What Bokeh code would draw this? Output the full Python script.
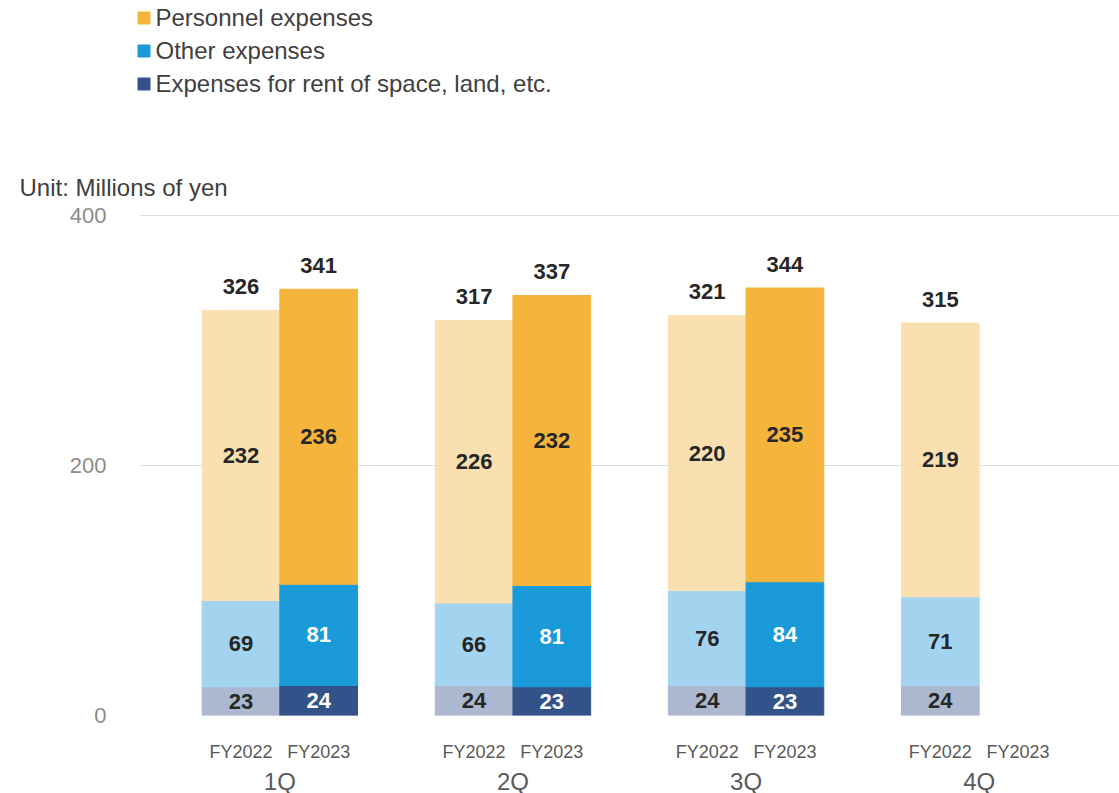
from bokeh.plotting import figure
from bokeh.layouts import column
from bokeh.models import (FactorRange, ColumnDataSource, FixedTicker, Legend,
                          LegendItem, Range1d)
from bokeh.core.properties import value
from bokeh.embed import file_html
from bokeh.resources import INLINE

# ---------------- data ----------------
quarters = ["1Q", "2Q", "3Q", "4Q"]
years = ["FY2022", "FY2023"]

fy2022_quarters = ["1Q", "2Q", "3Q", "4Q"]
fy2022_rent = [23, 24, 24, 24]
fy2022_other = [69, 66, 76, 71]
fy2022_personnel = [232, 226, 220, 219]
fy2022_total = [326, 317, 321, 315]

fy2023_quarters = ["1Q", "2Q", "3Q"]
fy2023_rent = [24, 23, 23]
fy2023_other = [81, 81, 84]
fy2023_personnel = [236, 232, 235]
fy2023_total = [341, 337, 344]

legend_labels = ["Personnel expenses", "Other expenses",
                 "Expenses for rent of space, land, etc."]
unit_text = "Unit: Millions of yen"
y_ticks = [0, 200, 400]

# ---------------- style ----------------
FONT = "Liberation Sans"
c22 = ["#ABB8D0", "#A3D4EF", "#FAE0B0"]   # rent, other, personnel
c23 = ["#34528A", "#1A9AD9", "#F5B53C"]
lbl22 = ["#262626", "#262626", "#262626"]
lbl23 = ["#FFFFFF", "#FFFFFF", "#262626"]
stack_keys = ["rent", "other", "personnel"]

factors = [(q, y) for q in quarters for y in years]


def make_source(qs, year, rent, other, pers, total):
    return ColumnDataSource(dict(x=[(q, year) for q in qs], rent=rent,
                                 other=other, personnel=pers, total=total))


src22 = make_source(fy2022_quarters, "FY2022", fy2022_rent, fy2022_other,
                    fy2022_personnel, fy2022_total)
src23 = make_source(fy2023_quarters, "FY2023", fy2023_rent, fy2023_other,
                    fy2023_personnel, fy2023_total)

# ---------------- header (legend) ----------------
top = figure(frame_width=1119, frame_height=168,
             x_range=FactorRange(*factors), y_range=Range1d(1000, 1200),
             min_border=0, min_border_left=0, min_border_right=0,
             min_border_top=0, min_border_bottom=0, output_backend="svg",
             toolbar_location=None, x_axis_location=None,
             y_axis_location=None)
top.grid.visible = False
top.outline_line_color = None

# the legend swatches belong to the FY2023 stack (kept out of view here)
hdr = top.vbar_stack(stack_keys, x="x", width=1.0, source=src23, color=c23)
items = [LegendItem(label=legend_labels[0], renderers=[hdr[2]]),
         LegendItem(label=legend_labels[1], renderers=[hdr[1]]),
         LegendItem(label=legend_labels[2], renderers=[hdr[0]])]
legend = Legend(items=items, location=(135.5, 70.5), orientation="vertical",
                padding=0, margin=0, spacing=5, glyph_width=15,
                glyph_height=15, label_height=27, label_standoff=5,
                label_text_font=FONT, label_text_font_size="24px",
                label_text_color="#404040", background_fill_alpha=0,
                border_line_color=None)
top.add_layout(legend, "center")

# ---------------- main chart ----------------
p = figure(
    x_range=FactorRange(*factors, group_padding=1.0, factor_padding=0.0,
                        range_padding=0.806, range_padding_units="absolute"),
    y_range=(0, 412),
    frame_width=980, frame_height=515,
    min_border_left=139, min_border_right=0, min_border_top=32,
    min_border_bottom=78,
    output_backend="svg", toolbar_location=None,
    title=unit_text,
)
p.title.align = "left"
p.title.offset = -120
p.title.standoff = 0
p.title.text_font = FONT
p.title.text_font_style = "normal"
p.title.text_font_size = "24px"
p.title.text_color = "#404040"

r22 = p.vbar_stack(stack_keys, x="x", width=1.0, source=src22, color=c22)
r23 = p.vbar_stack(stack_keys, x="x", width=1.0, source=src23, color=c23)


def label_source(qs, year, segs, colors):
    xs, ys, texts, cols = [], [], [], []
    for i, q in enumerate(qs):
        bottom = 0
        for k, seg in enumerate(segs):
            v = seg[i]
            xs.append((q, year)); ys.append(bottom + v / 2)
            texts.append(str(v)); cols.append(colors[k])
            bottom += v
    return ColumnDataSource(dict(x=xs, y=ys, text=texts, color=cols))


def total_source(qs, year, segs, total):
    tops = [sum(s[i] for s in segs) for i in range(len(qs))]
    return ColumnDataSource(dict(x=[(q, year) for q in qs], y=tops,
                                 text=[str(t) for t in total]))


seg22 = [fy2022_rent, fy2022_other, fy2022_personnel]
seg23 = [fy2023_rent, fy2023_other, fy2023_personnel]

for src in (label_source(fy2022_quarters, "FY2022", seg22, lbl22),
            label_source(fy2023_quarters, "FY2023", seg23, lbl23)):
    p.text(x="x", y="y", text="text", source=src, text_color="color",
           text_font=value(FONT), text_font_style="bold",
           text_font_size="22px", text_align="center", text_baseline="middle")

for src in (total_source(fy2022_quarters, "FY2022", seg22, fy2022_total),
            total_source(fy2023_quarters, "FY2023", seg23, fy2023_total)):
    p.text(x="x", y="y", text="text", source=src, text_color="#262626",
           text_font=value(FONT), text_font_style="bold",
           text_font_size="22px", text_align="center", text_baseline="middle",
           y_offset=-24)

# axes
p.xaxis.axis_line_color = None
p.xaxis.major_tick_line_color = None
p.xaxis.minor_tick_line_color = None
p.xaxis.major_tick_in = 0
p.xaxis.major_tick_out = 23
p.xaxis.major_label_standoff = 3
p.xaxis.major_label_text_font = FONT
p.xaxis.major_label_text_font_size = "18px"
p.xaxis.major_label_text_color = "#595959"
p.xaxis.group_text_font = FONT
p.xaxis.group_text_font_style = "normal"
p.xaxis.group_text_font_size = "24px"
p.xaxis.group_text_color = "#595959"
p.xaxis.separator_line_color = None

p.yaxis.ticker = FixedTicker(ticks=y_ticks)
p.yaxis.axis_line_color = None
p.yaxis.major_tick_line_color = None
p.yaxis.minor_tick_line_color = None
p.yaxis.major_tick_in = 0
p.yaxis.major_tick_out = 0
p.yaxis.major_label_standoff = 33
p.yaxis.major_label_text_font = FONT
p.yaxis.major_label_text_font_size = "22px"
p.yaxis.major_label_text_color = "#8C8C8C"

p.xgrid.grid_line_color = None
p.ygrid.grid_line_color = "#DADFE6"
p.ygrid.grid_line_width = 1
p.outline_line_color = None

layout = column(top, p, spacing=0)
open("out.html", "w").write(file_html(layout, INLINE))
